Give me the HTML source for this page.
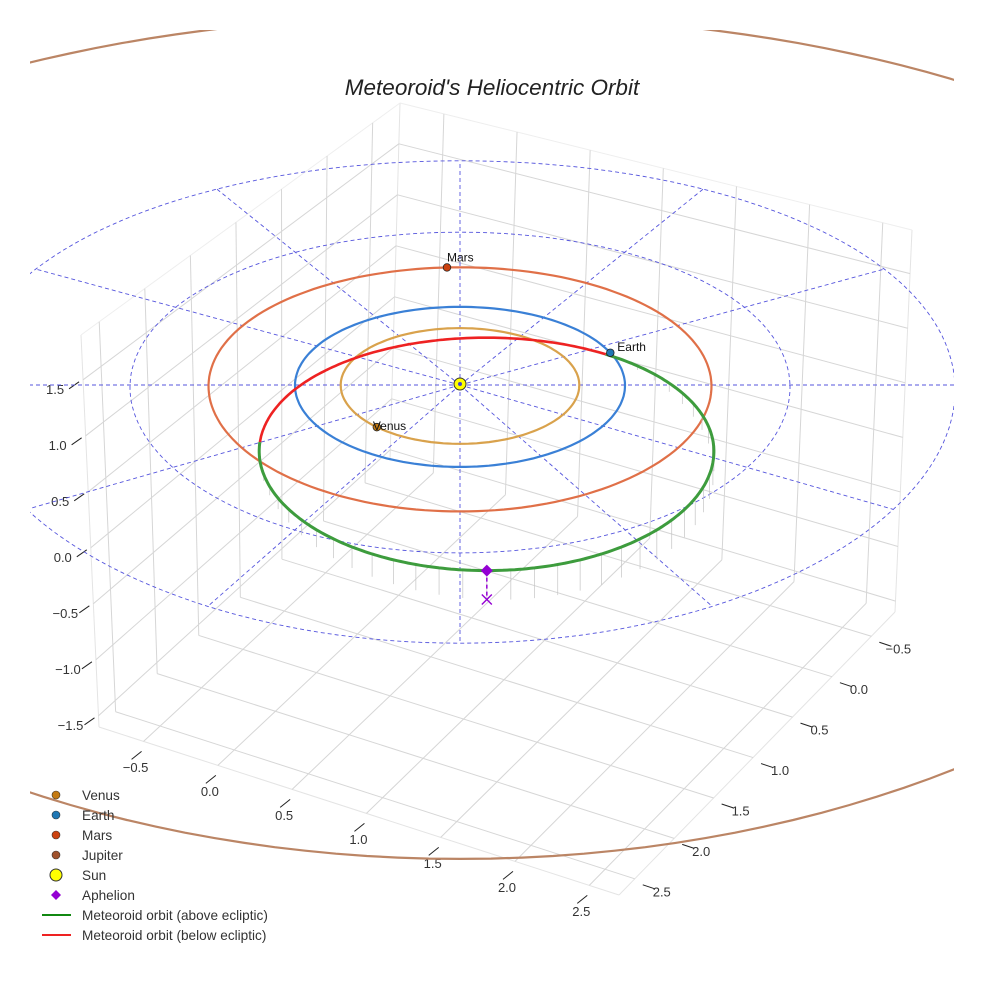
<!DOCTYPE html>
<html><head><meta charset="utf-8"><style>
html,body{margin:0;padding:0;background:#fff;}
svg{display:block;font-family:"Liberation Sans",sans-serif;}
</style></head><body>
<svg id="chart" width="984" height="984" viewBox="0 0 984 984" xmlns="http://www.w3.org/2000/svg">
<defs><clipPath id="plotclip"><rect x="30" y="30" width="924" height="954"/></clipPath></defs>
<rect width="984" height="984" fill="#fff"/>
<g id="grid"></g>
<g id="ticks"></g>
<g id="plot" clip-path="url(#plotclip)"></g>
<text x="492" y="95" text-anchor="middle" font-size="22.5" font-style="italic" fill="#222">Meteoroid's Heliocentric Orbit</text>
<g id="legend"></g>
</svg>
<script>
// ---- data ----
const xTicks = [-0.5, 0.0, 0.5, 1.0, 1.5, 2.0, 2.5];
const yTicks = [-0.5, 0.0, 0.5, 1.0, 1.5, 2.0, 2.5];
const zTicks = [-1.5, -1.0, -0.5, 0.0, 0.5, 1.0, 1.5];
const xLimits = [-0.8, 2.7];
const yLimits = [-0.8, 2.7];
const zLimits = [-1.6, 1.9];
const planetNames = ["Venus", "Earth", "Mars", "Jupiter"];
const planetRadii = [0.723, 1.0, 1.524, 5.2];
const planetAnglesDeg = [134, -24, -93, 200];
const refCircleRadii = [2, 3];
const radialAnglesDeg = [0, 30, 60, 90, 120, 150, 180, 210, 240, 270, 300, 330];
const meteorCenter = [0.16, 0.80];
const meteorSemiAxes = [1.37, 1.40];
const meteorBelowRangeDeg = [184, 302];
const meteorMaxHeight = 0.28;
const aphelionAngleDeg = 90;

const NS = "http://www.w3.org/2000/svg";
function mk(tag, attrs, parent){const e=document.createElementNS(NS,tag);for(const k in attrs)e.setAttribute(k,attrs[k]);parent.appendChild(e);return e;}

const Bf=[390,460],Rf=[895,612],Lf=[99,727],Ff=[619,895];
const Bt=[400,103],Rt=[912,230],Lt=[81,335],Ft=[619,508];
function bil(B,R,L,F,u,v,i){return B[i]*(1-u)*(1-v)+R[i]*u*(1-v)+L[i]*(1-u)*v+F[i]*u*v;}
function box(x,y,z){
  const u=(x-xLimits[0])/(xLimits[1]-xLimits[0]);
  const v=(y-yLimits[0])/(yLimits[1]-yLimits[0]);
  const w=(z-zLimits[0])/(zLimits[1]-zLimits[0]);
  const f=[bil(Bf,Rf,Lf,Ff,u,v,0),bil(Bf,Rf,Lf,Ff,u,v,1)];
  const t=[bil(Bt,Rt,Lt,Ft,u,v,0),bil(Bt,Rt,Lt,Ft,u,v,1)];
  return [f[0]+(t[0]-f[0])*w, f[1]+(t[1]-f[1])*w];
}
function ecl(X,Y){const k=1/(1-0.0235*Y);return [460+165*X*Math.pow(k,0.3), 385+80*Y*k];}

const grid=document.getElementById('grid');
function gl(p,q,col,wd){const l=mk('line',{x1:p[0],y1:p[1],x2:q[0],y2:q[1],stroke:col||'#d6d6d6','stroke-width':wd||1},grid);}
const X0=xLimits[0],X1=xLimits[1],Y0=yLimits[0],Y1=yLimits[1],Z0=zLimits[0],Z1=zLimits[1];
gl(box(X0,Y0,Z0),box(X0,Y0,Z1),'#e4e4e4');
gl(box(X0,Y1,Z0),box(X0,Y1,Z1),'#e4e4e4');
gl(box(X1,Y0,Z0),box(X1,Y0,Z1),'#e4e4e4');
gl(box(X0,Y1,Z1),box(X0,Y0,Z1),'#eeeeee');
gl(box(X0,Y0,Z1),box(X1,Y0,Z1),'#eeeeee');
gl(box(X0,Y1,Z0),box(X1,Y1,Z0),'#e4e4e4');
gl(box(X1,Y0,Z0),box(X1,Y1,Z0),'#e4e4e4');
xTicks.forEach(x=>{gl(box(x,Y0,Z0),box(x,Y1,Z0));gl(box(x,Y0,Z0),box(x,Y0,Z1));});
yTicks.forEach(y=>{gl(box(X0,y,Z0),box(X1,y,Z0));gl(box(X0,y,Z0),box(X0,y,Z1));});
zTicks.forEach(z=>{gl(box(X0,Y1,z),box(X0,Y0,z));gl(box(X0,Y0,z),box(X1,Y0,z));});

const tk=document.getElementById('ticks');
function tickLine(p,d1,d2){const l=mk('line',{x1:p[0]+d1[0],y1:p[1]+d1[1],x2:p[0]+d2[0],y2:p[1]+d2[1],stroke:'#222','stroke-width':1},tk);}
function lab(p,txt,name){const t=mk('text',{x:p[0],y:p[1],'text-anchor':'middle','font-size':13,fill:'#333','dominant-baseline':'middle'},tk);t.textContent=txt;}
function fmt(v){return (v<0?'\u2212':'')+Math.abs(v).toFixed(1);}
xTicks.forEach(x=>{const p=box(x,Y1,Z0);tickLine(p,[-2,10],[-12,18]);lab([p[0]-8,p[1]+27],fmt(x),'x-tick-label');});
yTicks.forEach(y=>{const p=box(X1,y,Z0);tickLine(p,[8,6],[20,10]);lab([p[0]+27,p[1]+14],fmt(y),'y-tick-label');});
zTicks.forEach(z=>{const p=box(X0,Y1,z);tickLine(p,[-4,2],[-14,9]);lab([p[0]-28,p[1]+11],fmt(z),'z-tick-label');});

const plot=document.getElementById('plot');
function pathFrom(pts){return 'M'+pts.map(p=>p[0].toFixed(1)+','+p[1].toFixed(1)).join('L');}
const d2r=Math.PI/180;
function circlePts(r){const pts=[];for(let a=0;a<=360;a+=2)pts.push(ecl(r*Math.cos(a*d2r),r*Math.sin(a*d2r)));return pts;}
refCircleRadii.forEach(r=>{const p=mk('path',{d:pathFrom(circlePts(r)),fill:'none',stroke:'#5555dd','stroke-width':0.9,'stroke-dasharray':'4,3'},plot);});
const rMax=refCircleRadii[refCircleRadii.length-1];
radialAnglesDeg.forEach(a=>{const q=ecl(rMax*Math.cos(a*d2r),rMax*Math.sin(a*d2r));const c=ecl(0,0);const l=mk('line',{x1:c[0],y1:c[1],x2:q[0],y2:q[1],stroke:'#5555dd','stroke-width':0.9,'stroke-dasharray':'4,3'},plot);});

const orbitColors=['#d9a24c','#3a80d6','#e07048','#bb8565'];
const markerColors=['#c47a12','#1f77b4','#cc4210','#a0522d'];
planetRadii.forEach((r,i)=>{const p=mk('path',{d:pathFrom(circlePts(r)),fill:'none',stroke:orbitColors[i],'stroke-width':2.2},plot);});

function mpt(t){return ecl(meteorCenter[0]+meteorSemiAxes[0]*Math.cos(t*d2r),meteorCenter[1]+meteorSemiAxes[1]*Math.sin(t*d2r));}
const gStart=meteorBelowRangeDeg[1], gEnd=meteorBelowRangeDeg[0]+360;
function mz(t){return meteorMaxHeight*Math.sin(Math.PI*(t-gStart)/(gEnd-gStart));}
for(let t=gStart+4;t<gEnd;t+=6){const p=mpt(t);const h=mz(t)*110;const l=mk('line',{x1:p[0],y1:p[1],x2:p[0],y2:p[1]+h,stroke:'#c4c4c4','stroke-width':0.7},plot);}
const redPts=[];for(let t=meteorBelowRangeDeg[0];t<=meteorBelowRangeDeg[1];t+=1)redPts.push(mpt(t));
const greenPts=[];for(let t=gStart;t<=gEnd;t+=1)greenPts.push(mpt(t));
let e=mk('path',{d:pathFrom(redPts),fill:'none',stroke:'#ee2222','stroke-width':2.6},plot);
e=mk('path',{d:pathFrom(greenPts),fill:'none',stroke:'#3d9c3d','stroke-width':3},plot);

const ap=mpt(aphelionAngleDeg), apH=mz(aphelionAngleDeg+360>gEnd?aphelionAngleDeg:aphelionAngleDeg+360)*110;
e=mk('line',{x1:ap[0],y1:ap[1],x2:ap[0],y2:ap[1]+apH,stroke:'#9400d3','stroke-width':1.5,'stroke-dasharray':'4,3'},plot);
e=mk('path',{d:`M${ap[0]-5},${ap[1]+apH-5}L${ap[0]+5},${ap[1]+apH+5}M${ap[0]+5},${ap[1]+apH-5}L${ap[0]-5},${ap[1]+apH+5}`,stroke:'#9400d3','stroke-width':1.4,fill:'none'},plot);
e=mk('path',{d:`M${ap[0]},${ap[1]-6}L${ap[0]+6},${ap[1]}L${ap[0]},${ap[1]+6}L${ap[0]-6},${ap[1]}Z`,fill:'#9400d3'},plot);

planetRadii.forEach((r,i)=>{const a=planetAnglesDeg[i]*d2r;const p=ecl(r*Math.cos(a),r*Math.sin(a));
  const c=mk('circle',{cx:p[0],cy:p[1],r:3.8,fill:markerColors[i],stroke:'#222','stroke-width':0.8},plot);
  const off = i===1 ? [7,-2] : (i===2 ? [0,-6] : [-4,3]);
  const t=mk('text',{x:p[0]+off[0],y:p[1]+off[1],'font-size':12,fill:'#111'},plot);t.textContent=planetNames[i];
});
const sun=ecl(0,0);
e=mk('circle',{cx:sun[0],cy:sun[1]-1,r:6,fill:'#ffff00',stroke:'#333','stroke-width':1},plot);
e=mk('circle',{cx:sun[0],cy:sun[1]-1,r:2,fill:'#4444cc'},plot);

const lg=document.getElementById('legend');
const legendLabels=['Venus','Earth','Mars','Jupiter','Sun','Aphelion','Meteoroid orbit (above ecliptic)','Meteoroid orbit (below ecliptic)'];
legendLabels.forEach((s,i)=>{const y=795+i*20;let m;
  if(i<4){m=mk('circle',{cx:56,cy:y,r:4,fill:markerColors[i],stroke:'#333','stroke-width':0.6},lg);}
  else if(i===4){m=mk('circle',{cx:56,cy:y,r:6,fill:'#ffff00',stroke:'#333','stroke-width':1},lg);}
  else if(i===5){m=mk('path',{d:`M56,${y-5}L61,${y}L56,${y+5}L51,${y}Z`,fill:'#9400d3'},lg);}
  else{m=mk('line',{x1:42,y1:y,x2:71,y2:y,stroke:i===6?'#118811':'#ee2222','stroke-width':2},lg);}
  
  const t=mk('text',{x:82,y:y+5,'font-size':13.6,fill:'#333'},lg);t.textContent=s;
});
</script>
</body></html>
